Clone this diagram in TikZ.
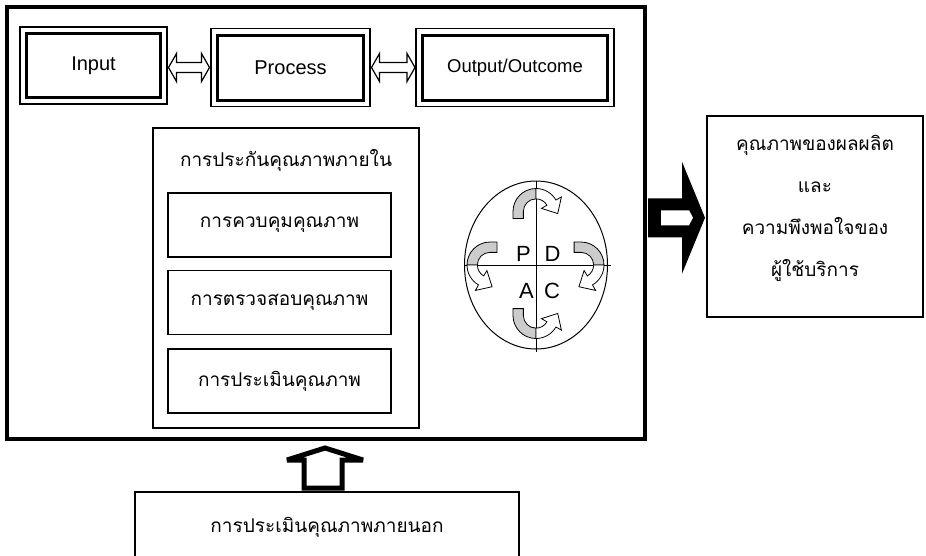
\documentclass[tikz,border=0pt]{standalone}
\usepackage{fontspec}
\setmainfont{Liberation Sans}
\newfontfamily\thaifont[Script=Thai]{Loma}
\usetikzlibrary{calc, shapes.geometric}

\tikzset{
	iobox/.style={draw, line width=3pt, outer sep=0pt, minimum height=65pt, font=\fontsize{20}{24}\selectfont},
	qbox/.style={draw, line width=1.2pt, outer sep=0pt, minimum width=223pt, minimum height=64pt, font=\thaifont\fontsize{19}{23}\selectfont},
	pdcaletter/.style={font=\fontsize{22}{26}\selectfont},
	cyclearrow/.pic={
		\begin{scope}[yscale=-1, scale=1.15, line width=0.8pt]
			\filldraw[fill=gray!40] (-20,-26) -- (-20,-20) arc[start angle=180, end angle=90, radius=20] -- (0,-9) arc[start angle=90, end angle=180, radius=11] -- (-11,-26) -- cycle;
			\filldraw[fill=white] (0,0) arc[start angle=90, end angle=30, radius=20] -- (22.1,-7.3) -- (18.9,-21.8) -- (4.8,-17.3) -- (9.5,-14.5) arc[start angle=30, end angle=90, radius=11] -- cycle;
		\end{scope}
	}
}

\begin{document}
\begin{tikzpicture}[x=1pt, y=-1pt]
		\useasboundingbox (0,0) rectangle (926,555);

		% outer frame
		\node[draw, line width=4pt, outer sep=0pt, minimum width=638pt, minimum height=432.5pt] (main) at (326,222.75) {};

		% input / process / output
		\node[iobox, minimum width=134pt, minimum height=64pt] (in) at (93.5,65.5) {Input};
		\node[iobox, minimum width=146pt] (pr) at (290.5,67.5) {Process};
		\node[iobox, minimum width=185pt, font=\fontsize{18.5}{22}\selectfont] (out) at (515,67.5) {Output/Outcome};
		\foreach \n in {in, pr, out}
			\draw[line width=1.2pt] ([shift={(-6.5,-6.5)}]\n.north west) rectangle ([shift={(6.5,6.5)}]\n.south east);

		\draw[line width=1.2pt] ([xshift=8pt, yshift=-2pt]in.east) -- ++(8,-14) -- ++(0,9) -- ++(25,0) -- ++(0,-9) -- ++(8,14) -- ++(-8,14) -- ++(0,-9) -- ++(-25,0) -- ++(0,9) -- cycle;
		\draw[line width=1.2pt] ([xshift=8pt]pr.east) -- ++(8,-14) -- ++(0,9) -- ++(27.5,0) -- ++(0,-9) -- ++(8,14) -- ++(-8,14) -- ++(0,-9) -- ++(-27.5,0) -- ++(0,9) -- cycle;

		% internal quality assurance
		\node[draw, line width=1.2pt, outer sep=0pt, minimum width=266pt, minimum height=300pt] (qa) at (286,278) {};
		\node[font=\thaifont\fontsize{19}{23}\selectfont] (qtitle) at (286,160) {การประกันคุณภาพภายใน};
		\node[qbox] (q1) at (279.5,225) {การควบคุมคุณภาพ};
		\node[qbox] (q2) at (279.5,302.5) {การตรวจสอบคุณภาพ};
		\node[qbox] (q3) at (279.5,381) {การประเมินคุณภาพ};

		% PDCA
		\node[draw, ellipse, line width=1pt, minimum width=143pt, minimum height=168pt] (cyc) at (536,265) {};
		\draw[line width=1pt] (cyc.north) -- ([yshift=-2pt]cyc.south);
		\draw[line width=1pt] (cyc.west) -- ([xshift=3pt]cyc.east);
		\node[pdcaletter] (lp) at (523.5,253.5) {P};
		\node[pdcaletter] (ld) at (552.5,253.5) {D};
		\node[pdcaletter] (la) at (526.5,291) {A};
		\node[pdcaletter] (lc) at (552,291) {C};
		\pic at ($(cyc.north)+(0,8)$) {cyclearrow};
		\pic[rotate=-90] at ($(cyc.east)+(-4,0)$) {cyclearrow};
		\pic[yscale=-1] at ($(cyc.south)+(0,-11)$) {cyclearrow};
		\pic[xscale=-1, rotate=-90] at ($(cyc.west)+(3,0)$) {cyclearrow};

		% result
		\node[draw, line width=1.2pt, outer sep=0pt, minimum width=216pt, minimum height=201pt] (res) at (815,216.5) {};
		\node[align=center, font=\thaifont\fontsize{19}{42}\selectfont] (restext) at ([yshift=8pt]res.center) {คุณภาพของผลผลิต\\และ\\ความพึงพอใจของ\\ผู้ใช้บริการ};

		\coordinate (ra) at ([xshift=3pt, yshift=5pt]main.east);
		\fill[shift={(ra)}] (0,-19.5) -- (34,-19.5) -- (34,-56) -- (57,0) -- (34,56) -- (34,19.5) -- (0,19.5) -- cycle;
		\fill[white, shift={(ra)}] (13,-7.5) -- (41,-7.5) -- (45,0) -- (41,7.5) -- (13,7.5) -- cycle;

		% external assessment
		\node[draw, line width=1.2pt, outer sep=0pt, minimum width=384pt, minimum height=70pt, font=\thaifont\fontsize{19}{23}\selectfont] (ext) at (327,527) {การประเมินคุณภาพภายนอก};
		\draw[line width=5pt, line join=miter, miter limit=2, shift={(ext.north)}] (-23,-4) -- (-23,-32) -- (-40,-32) -- (-2,-44) -- (36,-32) -- (15,-32) -- (15,-4) -- cycle;
	\end{tikzpicture}
\end{document}
